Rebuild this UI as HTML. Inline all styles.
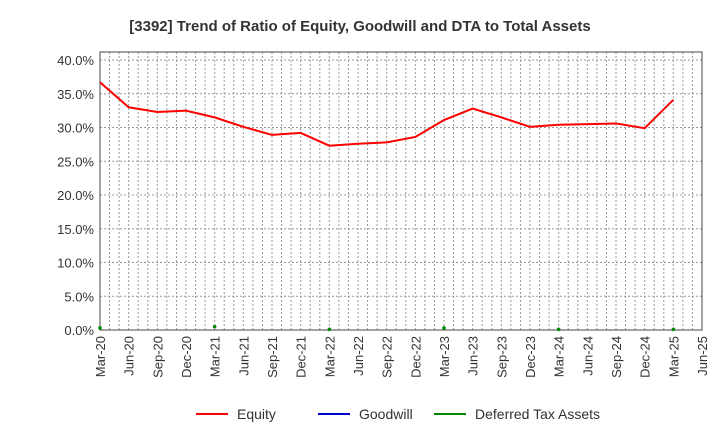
<!DOCTYPE html>
<html><head><meta charset="utf-8"><style>
body{margin:0;background:#fff;font-family:"Liberation Sans",Arial,sans-serif}
svg text{font-family:"Liberation Sans",Arial,sans-serif}
</style></head><body>
<svg width="720" height="440">
<text x="360" y="31" text-anchor="middle" font-size="15" font-weight="bold" fill="#333">[3392]  Trend of Ratio of Equity, Goodwill and DTA to Total Assets</text>
<g id="grid"></g><g id="axes"></g><g id="series"></g>
<g>
<line x1="196" y1="414" x2="228" y2="414" stroke="#f00" stroke-width="2"/><text x="237" y="419" font-size="14" fill="#333">Equity</text>
<line x1="318" y1="414" x2="350" y2="414" stroke="#00c" stroke-width="2"/><text x="359" y="419" font-size="14" fill="#333">Goodwill</text>
<line x1="434" y1="414" x2="466" y2="414" stroke="#080" stroke-width="2"/><text x="475" y="419" font-size="14" fill="#333">Deferred Tax Assets</text>
</g>
</svg>
<script>
const tickLabels=["Mar-20","Jun-20","Sep-20","Dec-20","Mar-21","Jun-21","Sep-21","Dec-21","Mar-22","Jun-22","Sep-22","Dec-22","Mar-23","Jun-23","Sep-23","Dec-23","Mar-24","Jun-24","Sep-24","Dec-24","Mar-25","Jun-25"];
const yTicks=[0,5,10,15,20,25,30,35,40];
const equity=[36.7,33.0,32.3,32.5,31.5,30.1,28.9,29.2,27.3,27.6,27.8,28.6,31.1,32.8,31.5,30.1,30.4,30.5,30.6,29.9,34.1];
const dtaIdx=[0,4,8,12,16,20];
const dta=[0.3,0.5,0.1,0.3,0.1,0.1];
const NS="http://www.w3.org/2000/svg";
const L=100,R=702,T=60,B=330;
const xq=i=>L+i*(R-L)/21;
const y=v=>B-(v-0)/40*(B-T);
function mk(p,tag,a){const e=document.createElementNS(NS,tag);for(const k in a)e.setAttribute(k,a[k]);p.appendChild(e);return e;}
const g=document.getElementById('grid'),ax=document.getElementById('axes'),s=document.getElementById('series');
for(let m=1;m<63;m++){const x=L+m*(R-L)/63;const l=mk(g,'line',{x1:x,x2:x,y1:T-8,y2:B,stroke:'#999','stroke-dasharray':'2,2','stroke-width':1});

}
yTicks.forEach(v=>{const l=mk(g,'line',{x1:L,x2:R,y1:y(v),y2:y(v),stroke:'#999','stroke-dasharray':'2,2','stroke-width':1});


const t=mk(ax,'text',{x:L-6,y:y(v)+5,'text-anchor':'end','font-size':13,fill:'#333'});t.textContent=v.toFixed(1)+'%';

});
const fr=mk(ax,'rect',{x:L,y:T-8,width:R-L,height:B-T+8,fill:'none',stroke:'#444','stroke-width':1});


tickLabels.forEach((lb,i)=>{const x=xq(i);const t=mk(ax,'text',{x:x+5,y:B+6,'text-anchor':'end','font-size':13,fill:'#333',transform:`rotate(-90 ${x+5} ${B+6})`});t.textContent=lb;

});
const pl=mk(s,'polyline',{points:equity.map((v,i)=>xq(i)+','+y(v)).join(' '),fill:'none',stroke:'#f00','stroke-width':2});


dta.forEach((v,j)=>{const c=mk(s,'circle',{cx:xq(dtaIdx[j]),cy:y(v),r:1.8,fill:'#080'});

});
</script>
</body></html>
